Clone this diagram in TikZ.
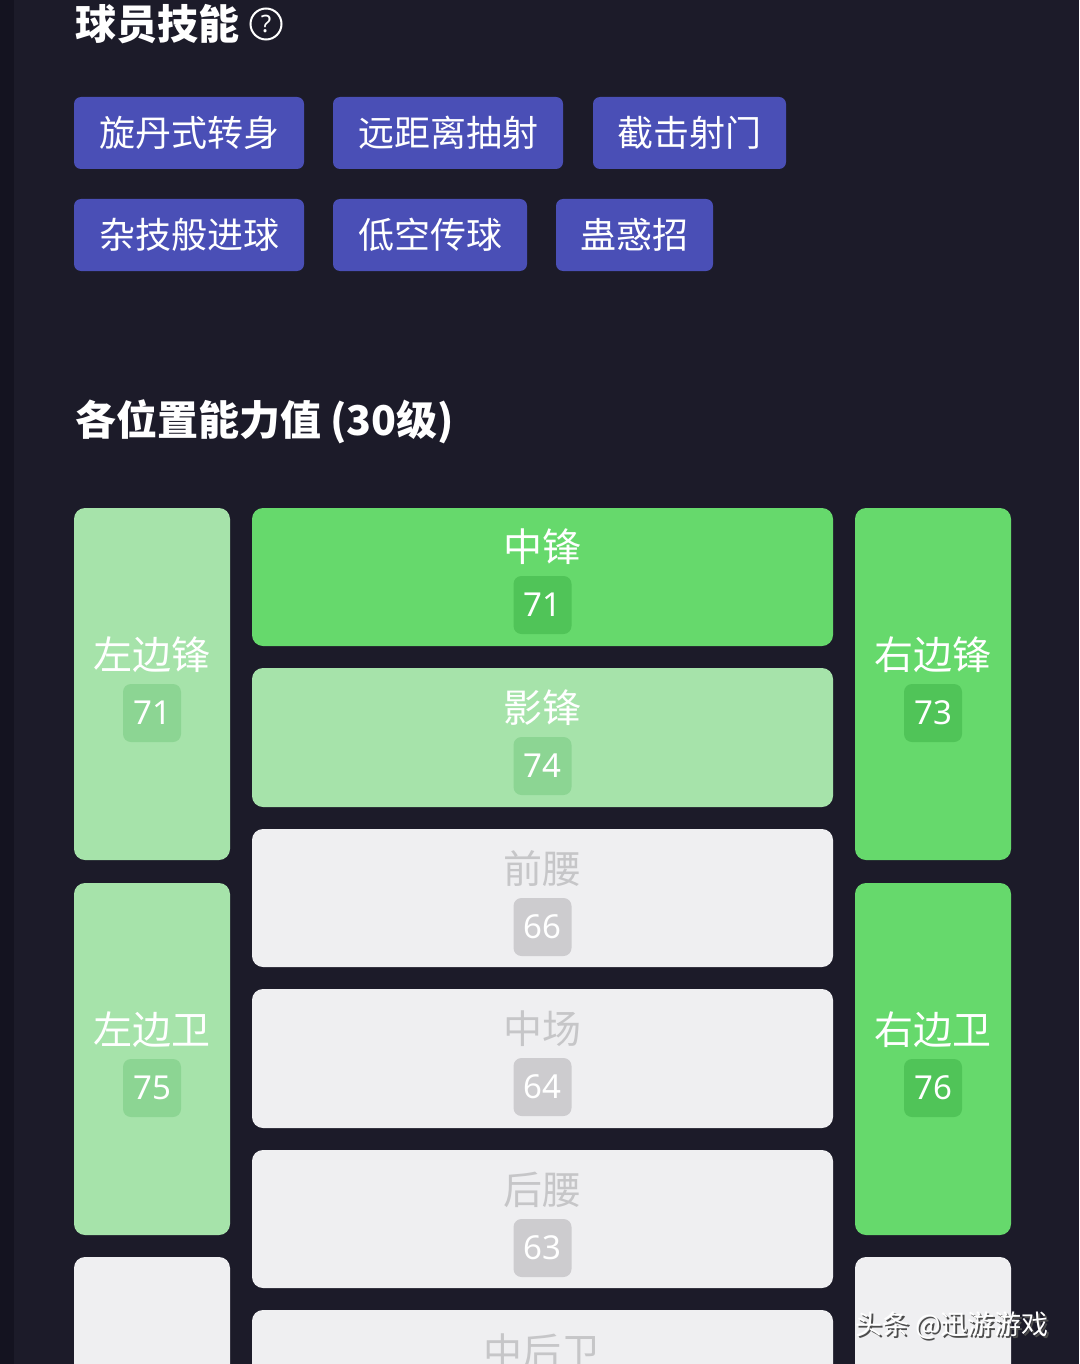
\documentclass[tikz,border=0pt]{standalone}
\usepackage{fontspec}
\setmainfont{Noto Sans CJK SC}
\newfontfamily\numf{Noto Sans}
\begin{document}
\begin{tikzpicture}[x=1pt,y=-1pt]
\definecolor{bg}{HTML}{1C1B29}
\definecolor{stripe}{HTML}{141320}
\definecolor{btn}{HTML}{4A4FB6}
\definecolor{gr}{HTML}{66D96C}
\definecolor{grb}{HTML}{50C458}
\definecolor{lg}{HTML}{A6E3AA}
\definecolor{lgb}{HTML}{8CD593}
\definecolor{gy}{HTML}{EFEFF1}
\definecolor{gyb}{HTML}{CDCCCF}
\definecolor{gyt}{HTML}{C6C6C8}
\tikzset{
 head/.style={text=white,font=\fontsize{41}{41}\selectfont\bfseries,anchor=west,inner sep=0pt},
 badge/.style={rounded corners=8pt,minimum width=58pt,minimum height=58pt,inner sep=0pt,text=white,font=\numf\fontsize{33}{33}\selectfont\bfseries}
}
\fill[bg] (0,0) rectangle (1079,1364);
\useasboundingbox (0,0) rectangle (1079,1364);
\fill[stripe] (0,0) rectangle (14,1364);
\node[head] (t1) at (75,24) {球员技能};
\node[draw=white,line width=2pt,circle,minimum size=31pt,inner sep=0pt,text=white,font=\numf\fontsize{24}{24}\selectfont] (q) at (266,24) {?};
\foreach \n/\a/\b/\y/\t in {s1/74/304/97/旋丹式转身,s2/333/563/97/远距离抽射,s3/593/786/97/截击射门,s4/74/304/199/杂技般进球,s5/333/527/199/低空传球,s6/556/713/199/蛊惑招}{
 \fill[btn,rounded corners=7pt] (\a,\y) rectangle (\b,\y+72);
 \node[text=white,font=\fontsize{36}{36}\selectfont] (\n) at ({(\a+\b)/2},\y+36) {\t};
}
\node[head] (t2) at (75,422) {各位置能力值 (30级)};
\foreach \n/\a/\b/\y/\z/\f/\bc/\tc/\ny/\lab/\v in {
 lw/74/230/508/860/lg/lgb/white/655/左边锋/71,
 lb/74/230/883/1235/lg/lgb/white/1030/左边卫/75,
 st/252/833/508/646/gr/grb/white/547/中锋/71,
 cf/252/833/668/807/lg/lgb/white/708/影锋/74,
 am/252/833/829/967/gy/gyb/gyt/869/前腰/66,
 cm/252/833/989/1128/gy/gyb/gyt/1029/中场/64,
 dm/252/833/1150/1288/gy/gyb/gyt/1190/后腰/63,
 rw/855/1011/508/860/gr/grb/white/655/右边锋/73,
 rb/855/1011/883/1235/gr/grb/white/1030/右边卫/76}{
 \fill[\f,rounded corners=11pt] (\a,\y) rectangle (\b,\z);
 \node[text=\tc,font=\fontsize{39}{39}\selectfont] (\n) at ({(\a+\b)/2},\ny) {\lab};
 \node[badge,fill=\bc] (\n v) at ({(\a+\b)/2},\ny+58) {\v};
}
\fill[gy,rounded corners=11pt] (74,1257) rectangle (230,1400);
\fill[gy,rounded corners=11pt] (855,1257) rectangle (1011,1400);
\fill[gy,rounded corners=11pt] (252,1310) rectangle (833,1400);
\node[text=gyt,font=\fontsize{39}{39}\selectfont] (cb) at (542,1352) {中后卫};
\node[text=black!70,font=\fontsize{27}{27}\selectfont,anchor=west,inner sep=0pt] at (857,1327) {头条 @迅游游戏};
\node[text=white,font=\fontsize{27}{27}\selectfont,anchor=west,inner sep=0pt] (wm) at (855,1325) {头条 @迅游游戏};
\end{tikzpicture}
\end{document}
